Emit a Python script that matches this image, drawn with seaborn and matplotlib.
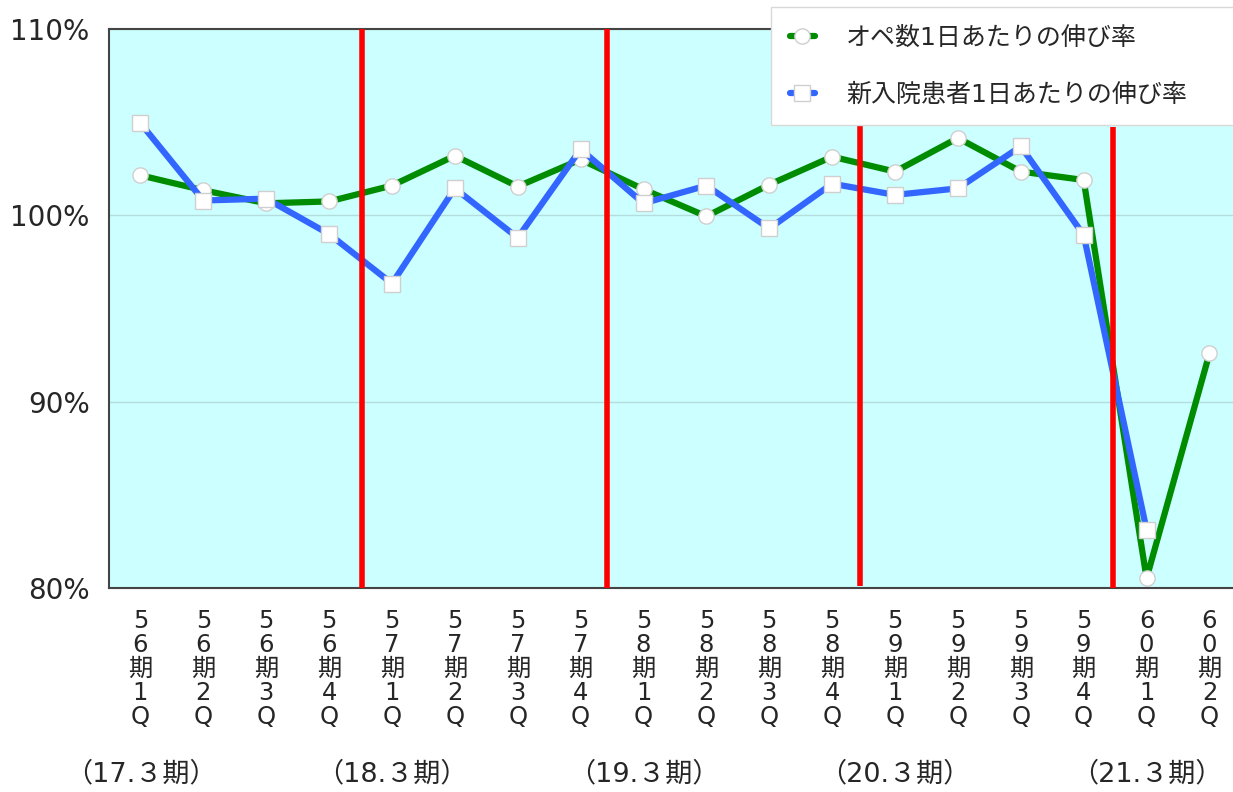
import numpy as np
import pandas as pd
import matplotlib.pyplot as plt
import matplotlib.transforms as mtransforms
import seaborn as sns

# quarters on the x axis
quarters = ['56期1Q', '56期2Q', '56期3Q', '56期4Q',
            '57期1Q', '57期2Q', '57期3Q', '57期4Q',
            '58期1Q', '58期2Q', '58期3Q', '58期4Q',
            '59期1Q', '59期2Q', '59期3Q', '59期4Q',
            '60期1Q', '60期2Q']

# growth rates (%)
ope_growth = [102.15, 101.35, 100.65, 100.75, 101.6, 103.2, 101.55, 103.0, 101.4,
              99.95, 101.65, 103.15, 102.35, 104.15, 102.35, 101.9, 80.55, 92.6]
patient_growth = [104.95, 100.8, 100.9, 99.0, 96.35, 101.45, 98.8, 103.55, 100.65,
                  101.6, 99.3, 101.7, 101.1, 101.45, 103.7, 98.95, 83.15, np.nan]

ope_label = 'オペ数1日あたりの伸び率'
patient_label = '新入院患者1日あたりの伸び率'

# fiscal year labels under the axis
period_labels = ['（17.３期）', '（18.３期）', '（19.３期）', '（20.３期）', '（21.３期）']
period_pos = [0, 4, 8, 12, 16]

# red year dividers
divider_pos = [3.53, 7.42, 11.45, 15.47]
divider_top = [110, 110, 104.95, 104.75]
divider_bottom = [80, 80, 80.15, 80]

y_ticks = [80, 90, 100, 110]

sns.set_style('white')
plt.rcParams['font.family'] = ['DejaVu Sans', 'Noto Sans CJK JP']

df = pd.DataFrame({'pos': np.arange(len(quarters)),
                   'ope': ope_growth,
                   'patient': patient_growth})

fig = plt.figure(figsize=(12.33, 7.92), dpi=100)
ax = fig.add_axes([0.0884, 0.257, 0.918, 0.7065])
ax.set_facecolor('#CCFFFF')

marker_kw = dict(markersize=11, markerfacecolor='white',
                 markeredgecolor='#cfcfcf', markeredgewidth=1)

sns.lineplot(data=df, x='pos', y='ope', ax=ax, color='#008C00', lw=4.5,
             marker='o', label=ope_label, zorder=2, **marker_kw)
sns.lineplot(data=df.dropna(), x='pos', y='patient', ax=ax, color='#3366FF', lw=4.5,
             marker='s', label=patient_label, zorder=3, **marker_kw)

ax.vlines(divider_pos, divider_bottom, divider_top, colors='#FF0000', lw=4, zorder=4)

ax.set_xlim(-0.5, 17.5)
ax.set_ylim(80, 110)
ax.set_xlabel('')
ax.set_ylabel('')

ax.set_yticks(y_ticks)
ax.set_yticklabels([f'{v}%' for v in y_ticks], fontsize=20)
ax.tick_params(axis='y', length=0, pad=14)
ax.yaxis.grid(True, color='#b5dddd', lw=1)
ax.set_axisbelow(True)

ax.set_xticks(range(len(quarters)))
ax.set_xticklabels(['\n'.join(list(q)) for q in quarters], fontsize=17.5,
                   linespacing=1.0, va='top')
ax.tick_params(axis='x', direction='in', length=5, width=1.5, color='#333333', pad=15)

for side in ['left', 'bottom', 'top']:
    ax.spines[side].set_color('#444444')
    ax.spines[side].set_linewidth(1.5)
ax.spines['right'].set_visible(False)

trans = mtransforms.blended_transform_factory(ax.transData, ax.transAxes)
for p, lab in zip(period_pos, period_labels):
    ax.text(p, -0.333, lab, transform=trans, ha='center', va='center', fontsize=19.5)

leg = ax.legend(loc='upper left', bbox_to_anchor=(0.585, 0.835, 0.45, 0.204),
                mode='expand', fontsize=18, frameon=True, fancybox=False,
                edgecolor='#d9d9d9', framealpha=1, borderpad=0.75,
                labelspacing=1.3, handlelength=1.0, handletextpad=1.25,
                borderaxespad=0)
leg.get_frame().set_linewidth(1)

fig.savefig('out.png', dpi=100)
